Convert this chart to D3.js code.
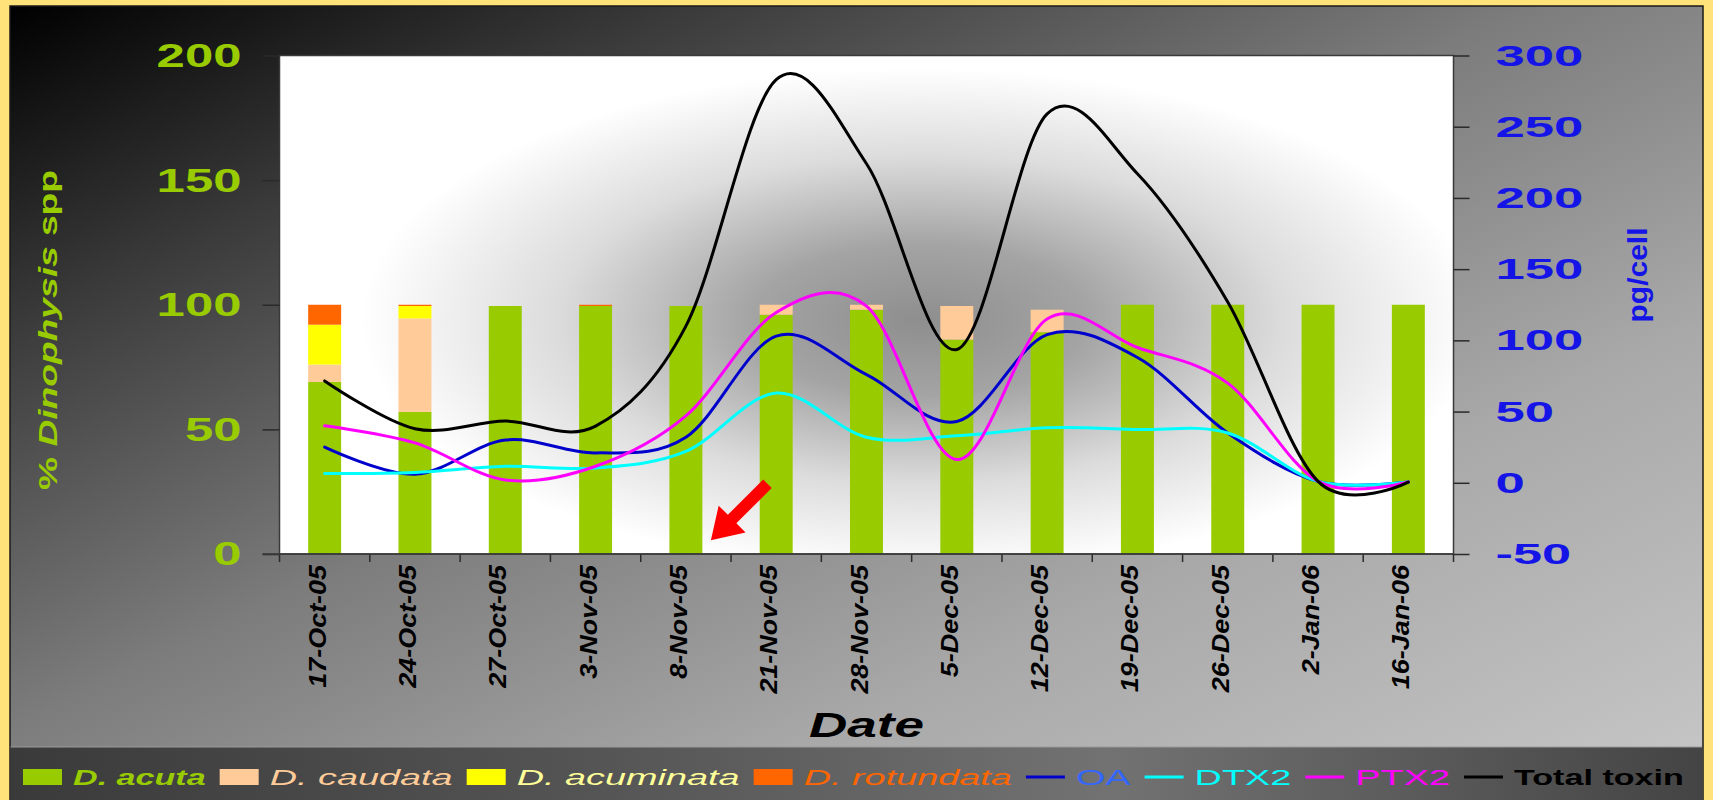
<!DOCTYPE html>
<html>
<head>
<meta charset="utf-8">
<script src="https://cdn.jsdelivr.net/npm/d3@7"></script>
<style>
  html, body { margin: 0; padding: 0; background: #FFE27A; }
  svg { display: block; font-family: "Liberation Sans", Arial, sans-serif; }
</style>
</head>
<body>
<svg id="chart" width="1713" height="800"></svg>
<script>
// ---------------- DATA ----------------
const dates = ["17-Oct-05","24-Oct-05","27-Oct-05","3-Nov-05","8-Nov-05","21-Nov-05","28-Nov-05",
               "5-Dec-05","12-Dec-05","19-Dec-05","26-Dec-05","2-Jan-06","16-Jan-06"];
// % Dinophysis spp (left axis)
const acuta      = [69, 57, 99.5, 99.5, 99.5, 96, 98, 86, 89, 100, 100, 100, 100];
const caudata    = [7, 37.5, 0, 0, 0, 4, 2, 13.5, 9, 0, 0, 0, 0];
const acuminata  = [16, 5, 0, 0, 0, 0, 0, 0, 0, 0, 0, 0, 0];
const rotundata  = [8, 0.5, 0, 0.5, 0, 0, 0, 0, 0, 0, 0, 0, 0];
// toxins pg/cell (right axis)
const OA         = [25, 6, 30, 21, 32, 103, 76, 43, 104, 88, 35, 1, 0.5];
const DTX2       = [6.6, 7.3, 11.6, 10.4, 22, 63, 32, 33, 38.6, 37.4, 35, 1, 0.5];
const PTX2       = [40, 28, 2, 11.6, 47, 119.6, 124, 16.3, 115, 95, 70, 1, 0.5];
const totalToxin = [71.5, 38, 43.3, 39.8, 110, 283, 224, 93.6, 259, 217, 127, 1, 0.5];
// ticks
const leftTicks  = [0, 50, 100, 150, 200];
const rightTicks = [-50, 0, 50, 100, 150, 200, 250, 300];

// ---------------- LAYOUT ----------------
const svg = d3.select("#chart");
const plot = {left: 279.5, right: 1453.5, top: 55.5, bottom: 554};

const defs = svg.append("defs");
const bgGrad = defs.append("linearGradient").attr("id","bgGrad")
  .attr("x1",0).attr("y1",0).attr("x2",1).attr("y2",1);
[[0,"#000000"],[0.2,"#3a3a3a"],[0.45,"#7c7c7c"],[0.7,"#a9a9a9"],[1,"#c8c8c8"]]
  .forEach(([o,c]) => bgGrad.append("stop").attr("offset",o).attr("stop-color",c));

const legGrad = defs.append("linearGradient").attr("id","legGrad")
  .attr("x1",0).attr("y1",0).attr("x2",1).attr("y2",0);
[[0,"#3a3a3a"],[0.35,"#555555"],[0.65,"#727272"],[1,"#444444"]]
  .forEach(([o,c]) => legGrad.append("stop").attr("offset",o).attr("stop-color",c));

const plotGrad = defs.append("radialGradient").attr("id","plotGrad")
  .attr("gradientUnits","userSpaceOnUse")
  .attr("cx",920).attr("cy",320).attr("r",560)
  .attr("gradientTransform","translate(920,320) scale(1,0.45) translate(-920,-320)");
[[0,"#8e8e8e"],[0.3,"#a4a4a4"],[0.65,"#dcdcdc"],[1,"#ffffff"]]
  .forEach(([o,c]) => plotGrad.append("stop").attr("offset",o).attr("stop-color",c));

// background
svg.append("rect").attr("x",0).attr("y",0).attr("width",1713).attr("height",800).attr("fill","#FFE27A");
svg.append("rect").attr("x",10).attr("y",6).attr("width",1693).attr("height",800)
  .attr("fill","url(#bgGrad)").attr("stroke","#1a1a1a").attr("stroke-width",1.5);
svg.append("rect").attr("x",10.5).attr("y",747).attr("width",1692).attr("height",53)
  .attr("fill","url(#legGrad)");
svg.append("line").attr("x1",10.5).attr("x2",1702).attr("y1",747).attr("y2",747)
  .attr("stroke","#9a9a9a").attr("stroke-width",1);

// plot area
svg.append("rect").attr("x",plot.left).attr("y",plot.top)
  .attr("width",plot.right-plot.left).attr("height",plot.bottom-plot.top)
  .attr("fill","url(#plotGrad)");

// ---------------- SCALES ----------------
const x = d3.scaleBand().domain(dates).range([plot.left, plot.right])
  .paddingInner(0.635).paddingOuter(0.3175);
const yL = d3.scaleLinear().domain([0,200]).range([plot.bottom, plot.top]);
const yR = d3.scaleLinear().domain([-50,300]).range([plot.bottom, plot.top]);

function stretch(sel, factor) {
  sel.each(function() {
    const w = this.getComputedTextLength();
    d3.select(this).attr("textLength", w*factor).attr("lengthAdjust","spacingAndGlyphs");
  });
}

// ---------------- BARS ----------------
const table = dates.map((d,i) => ({date:d, acuta:acuta[i], caudata:caudata[i], acuminata:acuminata[i], rotundata:rotundata[i]}));
const keys = ["acuta","caudata","acuminata","rotundata"];
const barColor = {acuta:"#99CC00", caudata:"#FFCC99", acuminata:"#FFFF00", rotundata:"#FF6600"};
const stacked = d3.stack().keys(keys)(table);
svg.append("g").selectAll("g").data(stacked).join("g")
  .attr("fill", s => barColor[s.key])
  .selectAll("rect").data(s => s).join("rect")
  .attr("x", d => x(d.data.date))
  .attr("width", x.bandwidth())
  .attr("y", d => yL(d[1]))
  .attr("height", d => Math.max(0, yL(d[0]) - yL(d[1])));

// ---------------- LINES ----------------
const series = [
  {name:"OA", values:OA, color:"#0000CC"},
  {name:"DTX2", values:DTX2, color:"#00FFFF"},
  {name:"PTX2", values:PTX2, color:"#FF00FF"},
  {name:"Total toxin", values:totalToxin, color:"#000000"}
];
const line = d3.line()
  .x((v,i) => x(dates[i]) + x.bandwidth()/2)
  .y(v => yR(v))
  .curve(d3.curveCatmullRom.alpha(0));
svg.append("g").selectAll("path").data(series).join("path")
  .attr("d", s => line(s.values))
  .attr("fill","none").attr("stroke", s => s.color)
  .attr("stroke-width",3).attr("stroke-linejoin","round").attr("stroke-linecap","round");

// plot frame
svg.append("rect").attr("x",plot.left).attr("y",plot.top)
  .attr("width",plot.right-plot.left).attr("height",plot.bottom-plot.top)
  .attr("fill","none").attr("stroke","#3a3a3a").attr("stroke-width",1.5);

// red arrow annotation
const tip = [x("8-Nov-05") + x.bandwidth()/2 + 25, yL(5.5)];
const L = 80;
svg.append("path")
  .attr("d", `M0,-6 L${L-30},-6 L${L-30},-19 L${L},0 L${L-30},19 L${L-30},6 L0,6 Z`)
  .attr("transform", `translate(${tip[0] + L*Math.SQRT1_2},${tip[1] - L*Math.SQRT1_2}) rotate(135)`)
  .attr("fill","#FF0000");

// ---------------- AXES ----------------
// left axis
const gL = svg.append("g").attr("transform",`translate(${plot.left},0)`)
  .call(d3.axisLeft(yL).tickValues(leftTicks).tickSize(17).tickPadding(21).tickFormat(d => String(d)));
gL.select(".domain").remove();
gL.selectAll(".tick line").attr("stroke","#2a2a2a").attr("stroke-width",1.5);
gL.selectAll(".tick text")
  .attr("fill","#99CC00").attr("font-size",34).attr("font-weight","bold")
  .attr("font-family","Liberation Sans, Arial, sans-serif")
  .attr("textLength", d => String(d).length*28.3).attr("lengthAdjust","spacingAndGlyphs");

// right axis
const gR = svg.append("g").attr("transform",`translate(${plot.right},0)`)
  .call(d3.axisRight(yR).tickValues(rightTicks).tickSize(16).tickPadding(26).tickFormat(d => String(d)));
gR.select(".domain").remove();
gR.selectAll(".tick line").attr("stroke","#2a2a2a").attr("stroke-width",1.5);
gR.selectAll(".tick text")
  .attr("fill","#1414E6").attr("font-size",30).attr("font-weight","bold")
  .attr("font-family","Liberation Sans, Arial, sans-serif")
  .attr("textLength", d => String(d).replace("-","").length*29.3 + (d < 0 ? 17 : 0))
  .attr("lengthAdjust","spacingAndGlyphs");

// bottom axis
const gB = svg.append("g").attr("transform",`translate(0,${plot.bottom})`)
  .call(d3.axisBottom(x).tickSize(0).tickPadding(0));
gB.select(".domain").remove();
gB.selectAll(".tick text")
  .attr("font-family","Liberation Sans, Arial, sans-serif")
  .attr("font-size",23).attr("font-weight","bold").attr("font-style","italic")
  .attr("fill","#000").attr("text-anchor","end")
  .attr("transform","translate(1,11) rotate(-90)")
  .attr("x",0).attr("y",0).attr("dy",0);
stretch(gB.selectAll(".tick text"), 1.17);
// boundary ticks between categories
const step = x.step();
const bounds = dates.map(d => x(d) + x.bandwidth()/2 - step/2).concat([plot.right]);
svg.append("g").selectAll("line").data(bounds).join("line")
  .attr("x1", d => d).attr("x2", d => d)
  .attr("y1", plot.bottom).attr("y2", plot.bottom + 8)
  .attr("stroke","#2a2a2a").attr("stroke-width",1.5);
svg.append("line").attr("x1",plot.left-17).attr("x2",plot.right)
  .attr("y1",plot.bottom).attr("y2",plot.bottom)
  .attr("stroke","#3a3a3a").attr("stroke-width",1.5);

// axis titles
const tLeft = svg.append("text")
  .attr("transform","translate(57,330) rotate(-90)")
  .attr("text-anchor","middle").attr("fill","#99CC00")
  .attr("font-size",26).attr("font-weight","bold");
tLeft.append("tspan").text("% ");
tLeft.append("tspan").attr("font-style","italic").text("Dinophysis");
tLeft.append("tspan").text(" spp");
tLeft.attr("textLength",320).attr("lengthAdjust","spacingAndGlyphs");

svg.append("text")
  .attr("transform","translate(1647,275) rotate(-90)")
  .attr("text-anchor","middle").attr("fill","#1414E6")
  .attr("font-size",28).attr("font-weight","bold")
  .attr("textLength",95).attr("lengthAdjust","spacingAndGlyphs")
  .text("pg/cell");

svg.append("text")
  .attr("x",(plot.left+plot.right)/2).attr("y",737)
  .attr("text-anchor","middle").attr("fill","#000")
  .attr("font-size",35).attr("font-weight","bold").attr("font-style","italic")
  .attr("textLength",115).attr("lengthAdjust","spacingAndGlyphs")
  .text("Date");

// ---------------- LEGEND ----------------
const legendItems = [
  {label:"D. acuta", kind:"rect", color:barColor.acuta, text:"#99CC00", italic:true, bold:true},
  {label:"D. caudata", kind:"rect", color:barColor.caudata, text:"#FFCC99", italic:true},
  {label:"D. acuminata", kind:"rect", color:barColor.acuminata, text:"#FFFF99", italic:true},
  {label:"D. rotundata", kind:"rect", color:barColor.rotundata, text:"#FF6600", italic:true},
  {label:"OA", kind:"line", color:"#0000CC", text:"#3366FF"},
  {label:"DTX2", kind:"line", color:"#00FFFF", text:"#00FFFF"},
  {label:"PTX2", kind:"line", color:"#FF00FF", text:"#FF00FF"},
  {label:"Total toxin", kind:"line", color:"#000000", text:"#000000", bold:true}
];
const legY = 777;
let lx = 23;
const gLeg = svg.append("g");
legendItems.forEach(it => {
  if (it.kind === "rect") {
    gLeg.append("rect").attr("x",lx).attr("y",legY-8).attr("width",39).attr("height",16).attr("fill",it.color);
  } else {
    gLeg.append("line").attr("x1",lx).attr("x2",lx+39).attr("y1",legY).attr("y2",legY)
      .attr("stroke",it.color).attr("stroke-width",3);
  }
  lx += 39 + 11;
  const t = gLeg.append("text").attr("x",lx).attr("y",legY+8)
    .attr("font-size",22).attr("fill",it.text)
    .attr("font-style", it.italic ? "italic" : "normal")
    .attr("font-weight", it.bold ? "bold" : "normal")
    .text(it.label);
  const w = t.node().getComputedTextLength() * (it.bold ? 1.55 : 1.72);
  t.attr("textLength", w).attr("lengthAdjust","spacingAndGlyphs");
  lx += w + 14;
});
</script>
</body>
</html>
